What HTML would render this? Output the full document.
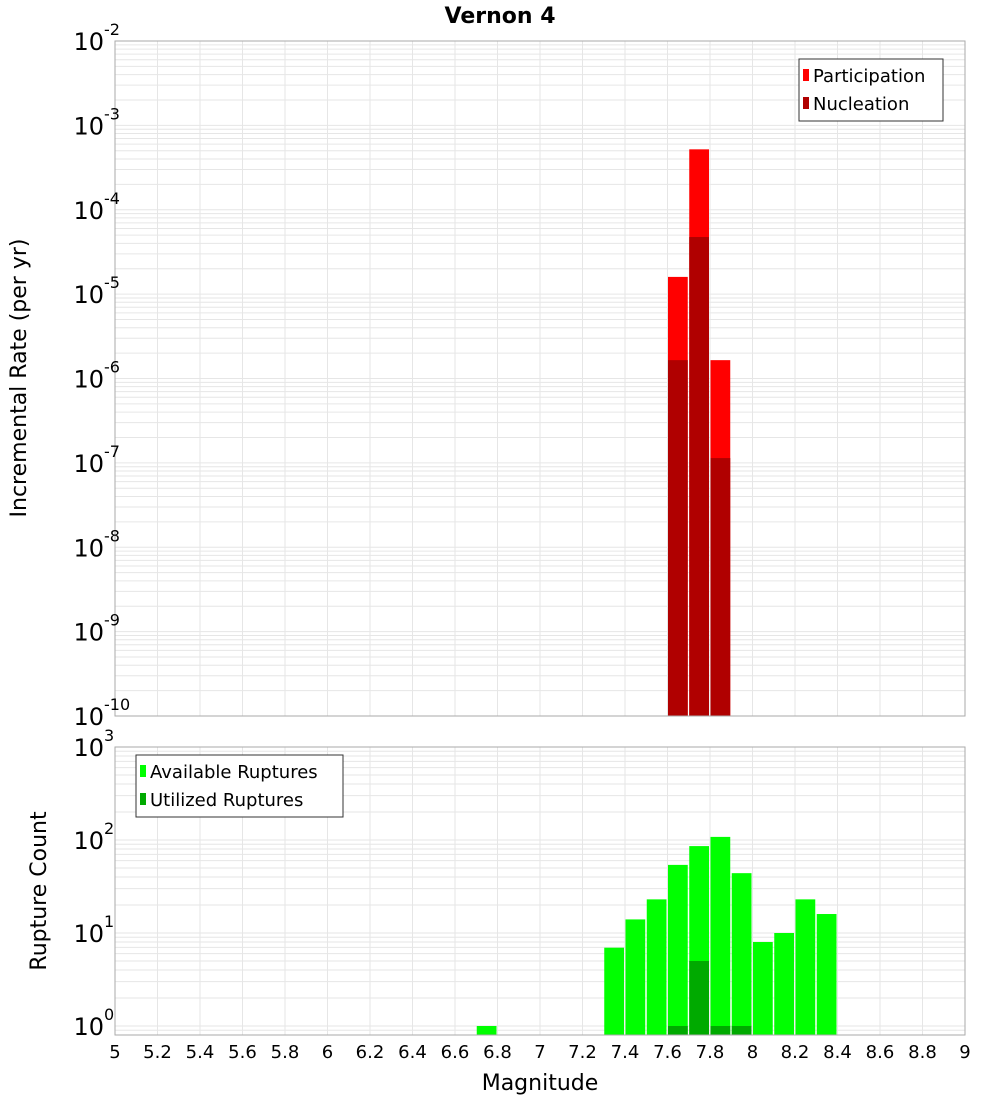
<!DOCTYPE html>
<html><head><meta charset="utf-8"><style>
body{margin:0;background:#fff;font-family:"Liberation Sans","DejaVu Sans",sans-serif}
svg text{font-family:"DejaVu Sans","Liberation Sans",sans-serif}
</style></head><body>
<svg id="chart" width="1000" height="1100" xmlns="http://www.w3.org/2000/svg">
<rect width="1000" height="1100" fill="#fff"/>
<text x="500" y="23" text-anchor="middle" font-size="22" font-weight="bold">Vernon 4</text>
<g id="top"></g><g id="bot"></g>
<text transform="translate(26,378) rotate(-90)" text-anchor="middle" font-size="22">Incremental Rate (per yr)</text>
<text transform="translate(46,891) rotate(-90)" text-anchor="middle" font-size="22">Rupture Count</text>
<text x="540" y="1090" text-anchor="middle" font-size="22">Magnitude</text>
</svg>
<script>
const topBins=[7.65,7.75,7.85];
const participation=[1.6e-5,5.2e-4,1.65e-6];
const nucleation=[1.65e-6,4.75e-5,1.14e-7];
const botBins=[6.75,7.35,7.45,7.55,7.65,7.75,7.85,7.95,8.05,8.15,8.25,8.35];
const available=[1,6.95,14,23,54,86,108,44,8,10,23,16];
const utilBins=[7.65,7.75,7.85,7.95];
const utilized=[1,5,1,1];
const xTicks=[5,5.2,5.4,5.6,5.8,6,6.2,6.4,6.6,6.8,7,7.2,7.4,7.6,7.8,8,8.2,8.4,8.6,8.8,9];
const topDecades=[-10,-9,-8,-7,-6,-5,-4,-3,-2];
const botDecades=[0,1,2,3];
const NS='http://www.w3.org/2000/svg';
const X0=115,X1=965;
const x=m=>X0+(m-5)/4*(X1-X0);
function el(p,t,a){const e=document.createElementNS(NS,t);for(const k in a)e.setAttribute(k,a[k]);p.appendChild(e);return e;}
function panel(g,top,bottom,yLog,dmin,dmax,name){
  el(g,'rect',{x:X0,y:top,width:X1-X0,height:bottom-top,fill:'#fff'});
  for(let d=dmin-1;d<=dmax;d++)for(let k=1;k<10;k++){const v=d+Math.log10(k);const yy=yLog(v);if(yy<top||yy>bottom)continue;
    const l=el(g,'line',{x1:X0,x2:X1,y1:yy,y2:yy,stroke:'#e6e6e6','stroke-width':1});
    
    }
  xTicks.forEach(t=>{const l=el(g,'line',{x1:x(t),x2:x(t),y1:top,y2:bottom,stroke:'#e6e6e6','stroke-width':1});
    
    });
}
function ylabels(g,decs,yLog,name){
  decs.forEach(d=>{const t=el(g,'text',{x:104,y:yLog(d)+9,'text-anchor':'end','font-size':24});
    
    
    t.textContent='10';
    const s=el(g,'text',{x:104,y:yLog(d)-6,'font-size':16});
    
    
    s.textContent=d;});
}
function bar(g,m,v,yLog,bottom,fill,name){
  const yy=yLog(Math.log10(v));
  const r=el(g,'rect',{x:x(m-0.05)+0.5,y:yy,width:x(m+0.05)-x(m-0.05)-1.5,height:bottom-yy,fill:fill});
  
  
}
function legend(g,lx,ly,w,items,name){
  const b=el(g,'rect',{x:lx,y:ly,width:w,height:62,fill:'#fff',stroke:'#333','stroke-width':1});
  
  
  items.forEach((it,i)=>{const r=el(g,'rect',{x:lx+4,y:ly+10+i*28,width:6,height:12,fill:it[1]});
    
    
    const t=el(g,'text',{x:lx+14,y:ly+23+i*28,'font-size':18});
    
    
    t.textContent=it[0];});
}
// top panel
const T=document.getElementById('top');
const tTop=41,tBot=716;
const yT=v=>tTop+(-2-v)*(tBot-tTop)/8;
panel(T,tTop,tBot,yT,-10,-2,'top');
topBins.forEach((m,i)=>bar(T,m,participation[i],yT,tBot,'#ff0000','participation-bar'));
topBins.forEach((m,i)=>bar(T,m,nucleation[i],yT,tBot,'#b00000','nucleation-bar'));
el(T,'rect',{x:X0,y:tTop,width:X1-X0,height:tBot-tTop,fill:'none',stroke:'#aaa'});
ylabels(T,topDecades,yT,'top');
legend(T,799,59,144,[['Participation','#ff0000'],['Nucleation','#b00000']],'top-legend');
// bottom panel
const B=document.getElementById('bot');
const bTop=747,bBot=1035;
const yB=v=>bTop+(3-v)*93;
panel(B,bTop,bBot,yB,0,3,'bottom');
botBins.forEach((m,i)=>bar(B,m,available[i],yB,bBot,'#00ff00','available-bar'));
utilBins.forEach((m,i)=>bar(B,m,utilized[i],yB,bBot,'#00aa00','utilized-bar'));
el(B,'rect',{x:X0,y:bTop,width:X1-X0,height:bBot-bTop,fill:'none',stroke:'#aaa'});
ylabels(B,botDecades,yB,'bottom');
legend(B,136,755,207,[['Available Ruptures','#00ff00'],['Utilized Ruptures','#00aa00']],'bottom-legend');
xTicks.forEach(t=>{const tx=el(B,'text',{x:x(t),y:1058,'text-anchor':'middle','font-size':18});
  
  
  tx.textContent=String(t);});
</script>
</body></html>
